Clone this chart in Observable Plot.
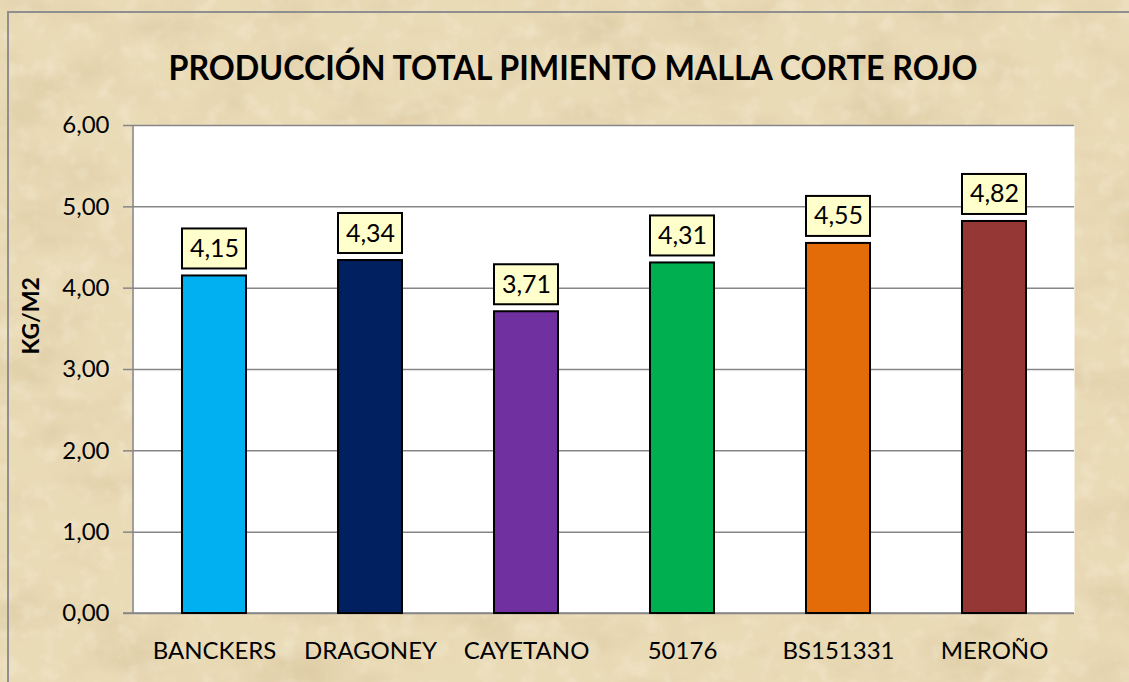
<!DOCTYPE html>
<html>
<head>
<meta charset="utf-8">
<script src="https://cdn.jsdelivr.net/npm/d3@7"></script>
<script src="https://cdn.jsdelivr.net/npm/@observablehq/plot@0.6"></script>
<style>
  html, body { margin:0; padding:0; }
  #wrap { position:relative; width:1129px; height:682px; overflow:hidden; background:#e9d9b4; }
  #bg { position:absolute; left:0; top:0; }
  #border { position:absolute; left:7px; top:11px; width:1200px; height:800px; border:2px solid #8f8f8f; box-sizing:border-box; }
  #chart { position:absolute; left:0; top:0; }
  #chart svg [aria-label^="y-axis"] line, #chart svg [aria-label="y-axis tick"] path { stroke:#868686; stroke-width:1.5px; stroke-opacity:1; }
</style>
</head>
<body>
<div id="wrap">
  <svg id="bg" width="1129" height="682">
    <filter id="n" x="0" y="0" width="100%" height="100%">
      <feTurbulence type="fractalNoise" baseFrequency="0.012 0.02" numOctaves="4" seed="7"/>
      <feColorMatrix values="0 0 0 0 0.55  0 0 0 0 0.42  0 0 0 0 0.22  1.2 0 0 0 -0.55"/>
    </filter>
    <filter id="n2" x="0" y="0" width="100%" height="100%">
      <feTurbulence type="fractalNoise" baseFrequency="0.05" numOctaves="3" seed="2"/>
      <feColorMatrix values="0 0 0 0 1  0 0 0 0 0.98  0 0 0 0 0.9  0 1.2 0 0 -0.6"/>
    </filter>
    <rect width="1129" height="682" fill="#eadbb7"/>
    <rect width="1129" height="682" filter="url(#n)" opacity="0.55"/>
    <rect width="1129" height="682" filter="url(#n2)" opacity="0.5"/>
  </svg>
  <div id="border"></div>
  <div id="chart"></div>
</div>
<script>
const categories = ["BANCKERS", "DRAGONEY", "CAYETANO", "50176", "BS151331", "MEROÑO"];
const values = [4.15, 4.34, 3.71, 4.31, 4.55, 4.82];
const colors = ["#00B0F0", "#002060", "#7030A0", "#00B050", "#E36C09", "#953735"];
const yTicks = [0, 1, 2, 3, 4, 5, 6];
const titleText = "PRODUCCIÓN TOTAL PIMIENTO MALLA CORTE ROJO";
const yLabel = "KG/M2";

const data = categories.map((c, i) => ({cat: c, v: values[i]}));
const fmt = d => d.toFixed(2).replace(".", ",");

const axisLines = (index, scales, values, dims) => {
  const g = d3.create("svg:g");
  const x0 = dims.marginLeft, x1 = dims.width - dims.marginRight;
  const y0 = dims.marginTop, y1 = dims.height - dims.marginBottom;
  g.append("line").attr("x1", x0).attr("x2", x0).attr("y1", y0).attr("y2", y1)
    .attr("stroke", "#868686").attr("stroke-width", 1.5);
  g.append("line").attr("x1", x0 - 10).attr("x2", x1).attr("y1", y1).attr("y2", y1)
    .attr("stroke", "#868686").attr("stroke-width", 1.5);
  return g.node();
};

const chart = Plot.plot({
  width: 1129,
  height: 682,
  marginTop: 125,
  marginLeft: 133,
  marginRight: 55,
  marginBottom: 69,
  style: {background: "transparent", fontFamily: "Lato, sans-serif", fontSize: "24px", color: "#000"},
  x: {domain: categories, paddingInner: 0.59, paddingOuter: 0.295, label: null, tickSize: 0, tickPadding: 28},
  y: {domain: [0, 6], ticks: yTicks, tickFormat: fmt, label: null, tickSize: 10, tickPadding: 14},
  color: {domain: categories, range: colors},
  marks: [
    Plot.frame({fill: "white", stroke: null}),
    Plot.ruleY(yTicks, {stroke: "#868686", strokeWidth: 1.5}),
    axisLines,
    Plot.barY(data, {x: "cat", y: "v", fill: "cat", stroke: "black", strokeWidth: 2}),
    Plot.barY(data, {x: "cat", y1: "v", y2: "v", fill: "#FFFFCC", stroke: "black", strokeWidth: 2, insetTop: -47, insetBottom: 7}),
    Plot.text(data, {x: "cat", y: "v", text: d => fmt(d.v), dy: -27, fontSize: 25, fill: "black"}),
    Plot.text([titleText], {frameAnchor: "top", text: d => d, dx: -31, dy: -70, fontSize: 34, fontWeight: "bold", fill: "black"}),
    Plot.text([yLabel], {frameAnchor: "left", text: d => d, rotate: -90, dx: -102, dy: -15, fontSize: 23, fontWeight: "bold", fill: "black"})
  ]
});

document.getElementById("chart").appendChild(chart);

// stretch the title to the reference width
for (const t of chart.querySelectorAll("text")) {
  if (t.textContent === titleText) {
    t.setAttribute("textLength", 809);
    t.setAttribute("lengthAdjust", "spacingAndGlyphs");
  }
}
</script>
</body>
</html>
